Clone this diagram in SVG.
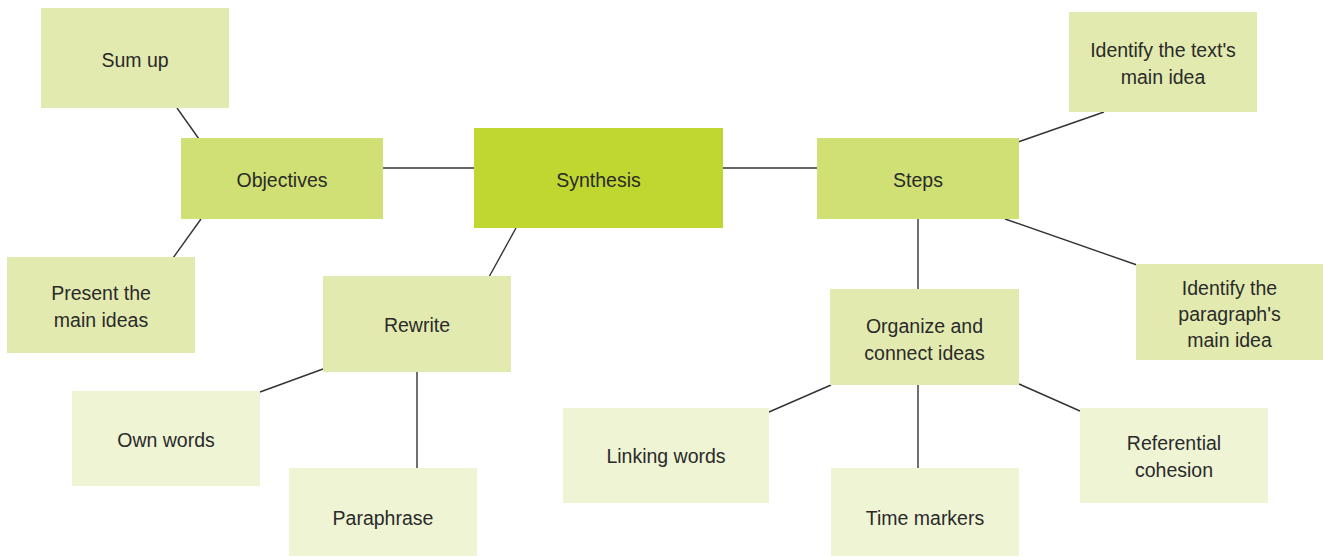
<svg xmlns="http://www.w3.org/2000/svg" width="1323" height="557" viewBox="0 0 1323 557">
  <style>
    .bg { fill: #ffffff; }
    .root { fill: #bfd730; }
    .l1 { fill: #d1e074; }
    .l2 { fill: #e2eab0; }
    .l3 { fill: #eff4d5; }
    .lbl { font-family: "Liberation Sans", Arial, sans-serif; font-size: 19.5px; fill: #2a2a2a; text-anchor: middle; }
    #connectors line { stroke: #333333; stroke-width: 1.4; }
  </style>
  <rect class="bg" x="0" y="0" width="1323" height="557"/>

  <!-- connecting lines, drawn beneath the boxes -->
  <g id="connectors">
    <line x1="177" y1="108" x2="199" y2="139"/>
    <line x1="201" y1="219" x2="173" y2="258"/>
    <line x1="383" y1="168" x2="475" y2="168"/>
    <line x1="722" y1="168" x2="818" y2="168"/>
    <line x1="516" y1="228" x2="489" y2="277"/>
    <line x1="1018" y1="142" x2="1104" y2="112"/>
    <line x1="1005" y1="219" x2="1137" y2="265"/>
    <line x1="918" y1="219" x2="918" y2="290"/>
    <line x1="323" y1="369" x2="260" y2="392"/>
    <line x1="417" y1="372" x2="417" y2="469"/>
    <line x1="831" y1="385" x2="769" y2="412"/>
    <line x1="918" y1="385" x2="918" y2="469"/>
    <line x1="1019" y1="384" x2="1080" y2="411"/>
  </g>

  <g id="synthesis">
    <rect class="root" x="474" y="128" width="249" height="100"/>
    <text class="lbl" x="598.5" y="187">Synthesis</text>
  </g>

  <g id="objectives">
    <rect class="l1" x="181" y="138" width="202" height="81"/>
    <text class="lbl" x="282" y="187">Objectives</text>
  </g>

  <g id="steps">
    <rect class="l1" x="817" y="138" width="202" height="81"/>
    <text class="lbl" x="918" y="187">Steps</text>
  </g>

  <g id="sum-up">
    <rect class="l2" x="41" y="8" width="188" height="100"/>
    <text class="lbl" x="135" y="67">Sum up</text>
  </g>

  <g id="present-main-ideas">
    <rect class="l2" x="7" y="257" width="188" height="96"/>
    <text class="lbl" x="101" y="300">Present the</text>
    <text class="lbl" x="101" y="327">main ideas</text>
  </g>

  <g id="identify-text-idea">
    <rect class="l2" x="1069" y="12" width="188" height="100"/>
    <text class="lbl" x="1163" y="57">Identify the text's</text>
    <text class="lbl" x="1163" y="84">main idea</text>
  </g>

  <g id="identify-paragraph-idea">
    <rect class="l2" x="1136" y="264" width="187" height="96"/>
    <text class="lbl" x="1229.5" y="295">Identify the</text>
    <text class="lbl" x="1229.5" y="321">paragraph's</text>
    <text class="lbl" x="1229.5" y="347">main idea</text>
  </g>

  <g id="rewrite">
    <rect class="l2" x="323" y="276" width="188" height="96"/>
    <text class="lbl" x="417" y="332">Rewrite</text>
  </g>

  <g id="organize">
    <rect class="l2" x="830" y="289" width="189" height="96"/>
    <text class="lbl" x="924.5" y="333">Organize and</text>
    <text class="lbl" x="924.5" y="360">connect ideas</text>
  </g>

  <g id="own-words">
    <rect class="l3" x="72" y="391" width="188" height="95"/>
    <text class="lbl" x="166" y="447">Own words</text>
  </g>

  <g id="paraphrase">
    <rect class="l3" x="289" y="468" width="188" height="88"/>
    <text class="lbl" x="383" y="525">Paraphrase</text>
  </g>

  <g id="linking-words">
    <rect class="l3" x="563" y="408" width="206" height="95"/>
    <text class="lbl" x="666" y="463">Linking words</text>
  </g>

  <g id="time-markers">
    <rect class="l3" x="831" y="468" width="188" height="88"/>
    <text class="lbl" x="925" y="525">Time markers</text>
  </g>

  <g id="referential-cohesion">
    <rect class="l3" x="1080" y="408" width="188" height="95"/>
    <text class="lbl" x="1174" y="450">Referential</text>
    <text class="lbl" x="1174" y="477">cohesion</text>
  </g>
</svg>
